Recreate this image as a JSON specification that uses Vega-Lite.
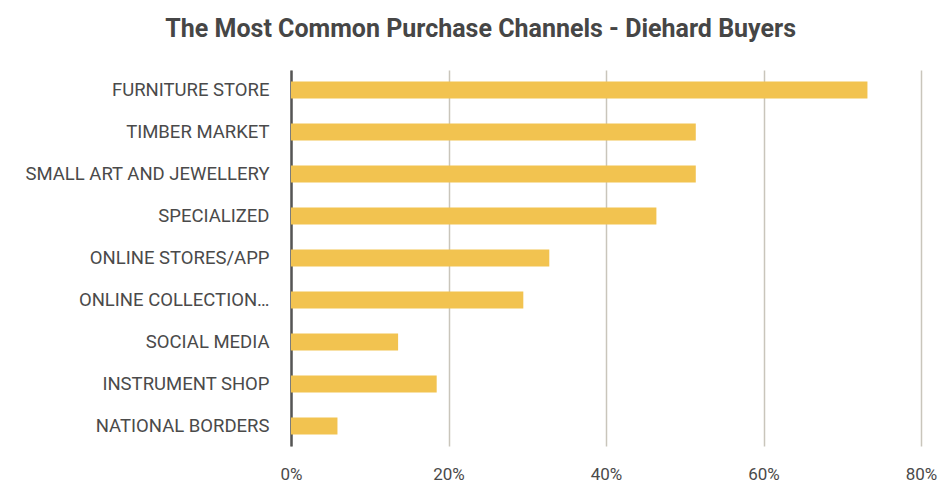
{
  "$schema": "https://vega.github.io/schema/vega-lite/v6.json",
  "width": 630,
  "height": 376,
  "autosize": {"type": "none"},
  "padding": {"left": 291, "top": 70, "right": 23, "bottom": 40},
  "background": "white",
  "title": {
    "text": "The Most Common Purchase Channels - Diehard Buyers",
    "font": "Roboto, sans-serif",
    "fontSize": 25,
    "fontWeight": "bold",
    "color": "#464646",
    "anchor": "middle",
    "frame": "bounds",
    "offset": 28
  },
  "data": {
    "values": [
      {"channel": "FURNITURE STORE", "share": 73.2},
      {"channel": "TIMBER MARKET", "share": 51.4},
      {"channel": "SMALL ART AND JEWELLERY", "share": 51.4},
      {"channel": "SPECIALIZED", "share": 46.4},
      {"channel": "ONLINE STORES/APP", "share": 32.8},
      {"channel": "ONLINE COLLECTION…", "share": 29.5},
      {"channel": "SOCIAL MEDIA", "share": 13.6},
      {"channel": "INSTRUMENT SHOP", "share": 18.5},
      {"channel": "NATIONAL BORDERS", "share": 5.9}
    ]
  },
  "config": {"view": {"stroke": null}},
  "mark": {"type": "bar", "color": "#F2C350"},
  "encoding": {
    "y": {
      "field": "channel",
      "type": "nominal",
      "sort": null,
      "title": null,
      "scale": {"paddingInner": 0.594, "paddingOuter": 0.275},
      "axis": {
        "domain": true,
        "domainColor": "#555555",
        "domainWidth": 2.5,
        "ticks": false,
        "grid": false,
        "labelFont": "Roboto, sans-serif",
        "labelFontSize": 18.5,
        "labelColor": "#4a4a4a",
        "labelPadding": 22,
        "labelLimit": 300
      }
    },
    "x": {
      "field": "share",
      "type": "quantitative",
      "title": null,
      "scale": {"domain": [0, 80]},
      "axis": {
        "values": [0, 20, 40, 60, 80],
        "labelExpr": "datum.value + '%'",
        "domain": false,
        "ticks": false,
        "grid": true,
        "gridColor": "#c9c5bb",
        "gridWidth": 1.5,
        "labelFont": "Roboto, sans-serif",
        "labelFontSize": 17,
        "labelColor": "#4a4a4a",
        "labelPadding": 20,
        "labelFlush": false
      }
    }
  }
}
